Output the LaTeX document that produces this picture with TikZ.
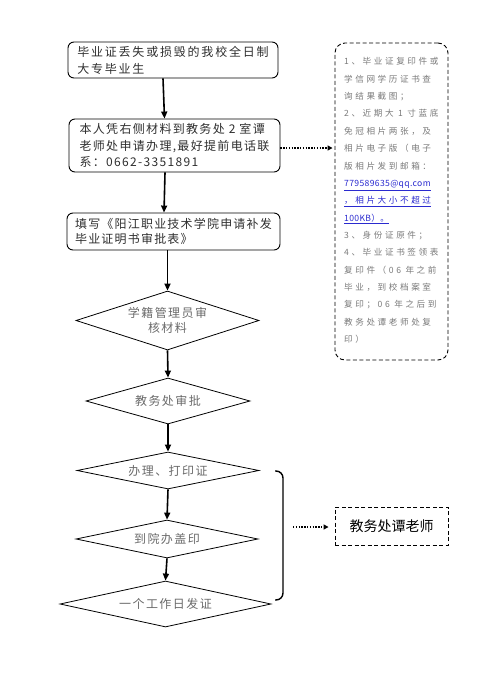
\documentclass[tikz,border=0pt]{standalone}
\usepackage{fontspec}
\setmainfont{Noto Sans CJK SC}
\usetikzlibrary{shapes.geometric,arrows.meta}
\definecolor{boxtext}{HTML}{2E2E2E}
\definecolor{diatext}{HTML}{6A6A6A}
\definecolor{notetext}{HTML}{7A7A7A}
\definecolor{linkblue}{HTML}{2A2ACF}
\begin{document}
\begin{tikzpicture}[x=1pt,y=-1pt,
  box/.style={draw, rounded corners=6pt, line width=0.9pt, align=left, text=boxtext, inner sep=0pt},
  dia/.style={draw, diamond, line width=0.8pt, inner sep=0pt, text=diatext, align=center,
    font=\fontsize{12pt}{15pt}\selectfont\addfontfeature{LetterSpace=12}},
  arr/.style={line width=1.6pt, -{Triangle[length=7pt,width=6pt]}},
  dotarr/.style={line width=1.4pt, dash pattern=on 1.4pt off 1.4pt, -{Triangle[length=5pt,width=5pt]}},
  dashbox/.style={draw, line width=0.9pt, dash pattern=on 4pt off 2.5pt}]
\useasboundingbox (0,0) rectangle (497,673);

% left column boxes
\node[box, minimum width=210pt, minimum height=36pt,
  font=\fontsize{12pt}{17pt}\selectfont\addfontfeature{LetterSpace=15}] (b1) at (173,60)
  {毕业证丢失或损毁的我校全日制\\大专毕业生};
\node[box, minimum width=211pt, minimum height=53pt,
  font=\fontsize{12pt}{16.5pt}\selectfont\addfontfeature{LetterSpace=11}] (b2) at (174.5,145.5)
  {本人凭右侧材料到教务处 2 室谭\\老师处申请办理,最好提前电话联\\系：0662-3351891};
\node[box, minimum width=213pt, minimum height=37pt,
  font=\fontsize{12pt}{15.5pt}\selectfont\addfontfeature{LetterSpace=10}] (b3) at (173.5,231.5)
  {填写《阳江职业技术学院申请补发\\毕业证明书审批表》};

% diamonds
\node[dia, minimum width=183pt, minimum height=59pt, aspect=3.1] (d1) at (167.5,320.5) {学籍管理员审\\核材料};
\node[dia, minimum width=164pt, minimum height=46pt, aspect=3.57] (d2) at (168,401) {教务处审批};
\node[dia, minimum width=182pt, minimum height=37pt, aspect=4.9] (d3) at (168,470.5) {办理、打印证};
\node[dia, minimum width=182pt, minimum height=38pt, aspect=4.8] (d4) at (167,539) {到院办盖印};
\node[dia, minimum width=211pt, minimum height=46pt, aspect=4.6] (d5) at (165.5,604) {一个工作日发证};

% right note box
\node[dashbox, rounded corners=10pt, minimum width=113pt, minimum height=317pt] (r) at (391.5,201.5) {};
\node[anchor=north west, inner sep=0pt, align=left, text=notetext,
  font=\fontsize{8.6pt}{17.35pt}\selectfont\addfontfeature{LetterSpace=30}] (rt) at (344,57.5)
  {1、毕业证复印件或\\学信网学历证书查\\询结果截图；\\2、近期大 1 寸蓝底\\免冠相片两张，及\\相片电子版（电子\\版相片发到邮箱：\\
   {\color{linkblue}\addfontfeature{LetterSpace=4}\underline{779589635@qq.com}}\\
   {\color{linkblue}\underline{，相片大小不超过}}\\
   {\color{linkblue}\addfontfeature{LetterSpace=4}\underline{100KB）。}}\\
   3、身份证原件；\\4、毕业证书签领表\\复印件（06 年之前\\毕业，到校档案室\\复印；06 年之后到\\教务处谭老师处复\\印）};

% bottom-right box
\node[dashbox, minimum width=113pt, minimum height=38pt, text=black,
  font=\fontsize{14pt}{16pt}\selectfont] (t) at (391.5,526) {教务处谭老师};

% main arrows
\draw[arr] ([xshift=-10pt]b1.south) -- ([xshift=-10pt]b2.north);
\draw[arr] ([xshift=-9.5pt]b2.south) -- ([xshift=-9.5pt]b3.north);
\draw[arr] (b3.south -| d1.north) -- (d1.north);
\draw[arr] (d1.south) -- (d2.north);
\draw[arr] (d2.south) -- (d3.north);
\draw[arr] (d3.south) -- (d4.north);
\draw[arr] (d4.south) -- (d5.north);

% dotted arrows
\draw[dotarr, shorten >=2pt] ([yshift=-2.5pt]b2.east) -- ([yshift=-2.5pt]b2.east -| r.west);

% brace
\coordinate (bt) at (275,471);
\coordinate (bb) at (275,600);
\draw[line width=1.4pt, rounded corners=7pt] (bt) -- ++(8,0) -- ++(0,129) -- (bb);
\coordinate (bs) at (293,527);
\draw[dotarr, shorten >=6pt] (bs) -- (bs -| t.west);
\end{tikzpicture}
\end{document}
